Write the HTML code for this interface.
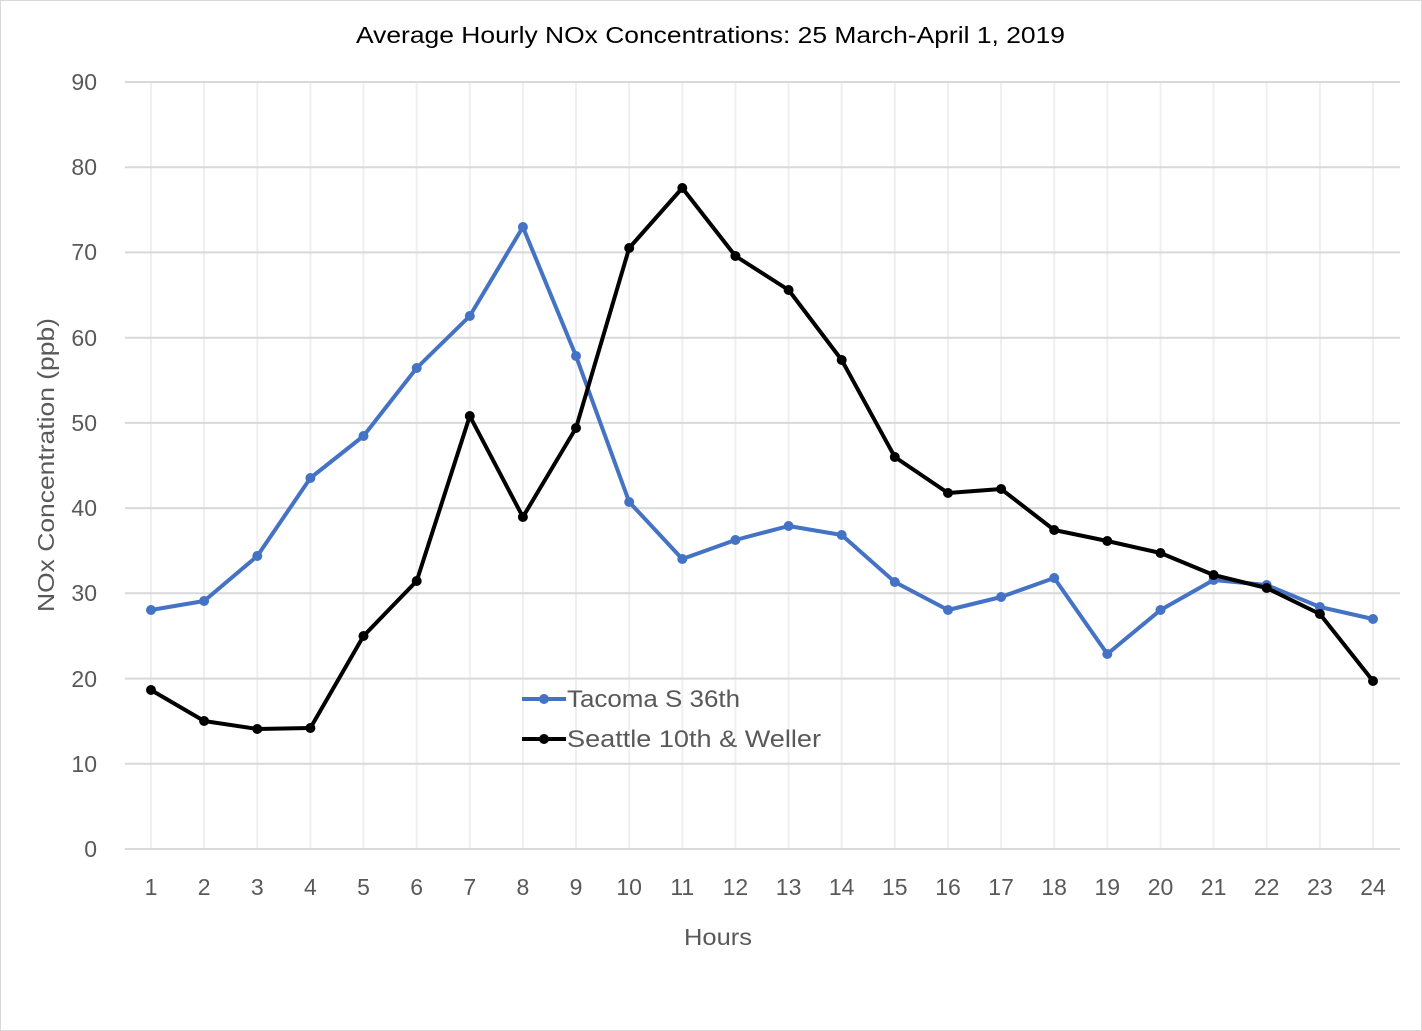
<!DOCTYPE html>
<html><head><meta charset="utf-8"><style>
html,body{margin:0;padding:0;background:#fff;}
svg{display:block;font-family:"Liberation Sans",sans-serif;}
</style></head><body>
<svg width="1422" height="1031" viewBox="0 0 1422 1031" xmlns="http://www.w3.org/2000/svg">
<rect x="0.5" y="0.5" width="1421" height="1030" fill="#fff" stroke="#d9d9d9"/>
<text x="356" y="43" font-size="23" fill="#000" textLength="709" lengthAdjust="spacingAndGlyphs">Average Hourly NOx Concentrations: 25 March-April 1, 2019</text>
<g stroke="#efefef" stroke-width="2">
<line x1="151" y1="82" x2="151" y2="849"/><line x1="204.1" y1="82" x2="204.1" y2="849"/><line x1="257.3" y1="82" x2="257.3" y2="849"/><line x1="310.4" y1="82" x2="310.4" y2="849"/><line x1="363.5" y1="82" x2="363.5" y2="849"/><line x1="416.7" y1="82" x2="416.7" y2="849"/><line x1="469.8" y1="82" x2="469.8" y2="849"/><line x1="522.9" y1="82" x2="522.9" y2="849"/><line x1="576" y1="82" x2="576" y2="849"/><line x1="629.2" y1="82" x2="629.2" y2="849"/><line x1="682.3" y1="82" x2="682.3" y2="849"/><line x1="735.4" y1="82" x2="735.4" y2="849"/><line x1="788.6" y1="82" x2="788.6" y2="849"/><line x1="841.7" y1="82" x2="841.7" y2="849"/><line x1="894.8" y1="82" x2="894.8" y2="849"/><line x1="948" y1="82" x2="948" y2="849"/><line x1="1001.1" y1="82" x2="1001.1" y2="849"/><line x1="1054.2" y1="82" x2="1054.2" y2="849"/><line x1="1107.3" y1="82" x2="1107.3" y2="849"/><line x1="1160.5" y1="82" x2="1160.5" y2="849"/><line x1="1213.6" y1="82" x2="1213.6" y2="849"/><line x1="1266.7" y1="82" x2="1266.7" y2="849"/><line x1="1319.9" y1="82" x2="1319.9" y2="849"/><line x1="1373" y1="82" x2="1373" y2="849"/>
</g>
<g stroke="#d9d9d9" stroke-width="2">
<line x1="125" y1="82" x2="1400" y2="82"/><line x1="125" y1="167.2" x2="1400" y2="167.2"/><line x1="125" y1="252.4" x2="1400" y2="252.4"/><line x1="125" y1="337.7" x2="1400" y2="337.7"/><line x1="125" y1="422.9" x2="1400" y2="422.9"/><line x1="125" y1="508.1" x2="1400" y2="508.1"/><line x1="125" y1="593.3" x2="1400" y2="593.3"/><line x1="125" y1="678.6" x2="1400" y2="678.6"/><line x1="125" y1="763.8" x2="1400" y2="763.8"/><line x1="125" y1="849" x2="1400" y2="849"/>
</g>
<g font-size="23" fill="#595959" text-anchor="end">
<text x="97" y="90">90</text><text x="97" y="175">80</text><text x="97" y="260">70</text><text x="97" y="346">60</text><text x="97" y="431">50</text><text x="97" y="516">40</text><text x="97" y="601">30</text><text x="97" y="687">20</text><text x="97" y="772">10</text><text x="97" y="857">0</text>
</g>
<g font-size="23" fill="#595959" text-anchor="middle">
<text x="151" y="895">1</text><text x="204.1" y="895">2</text><text x="257.3" y="895">3</text><text x="310.4" y="895">4</text><text x="363.5" y="895">5</text><text x="416.7" y="895">6</text><text x="469.8" y="895">7</text><text x="522.9" y="895">8</text><text x="576" y="895">9</text><text x="629.2" y="895">10</text><text x="682.3" y="895">11</text><text x="735.4" y="895">12</text><text x="788.6" y="895">13</text><text x="841.7" y="895">14</text><text x="894.8" y="895">15</text><text x="948" y="895">16</text><text x="1001.1" y="895">17</text><text x="1054.2" y="895">18</text><text x="1107.3" y="895">19</text><text x="1160.5" y="895">20</text><text x="1213.6" y="895">21</text><text x="1266.7" y="895">22</text><text x="1319.9" y="895">23</text><text x="1373" y="895">24</text>
</g>
<text x="684" y="945" font-size="23" fill="#595959" textLength="68" lengthAdjust="spacingAndGlyphs">Hours</text>
<text transform="translate(54,612) rotate(-90)" font-size="23" fill="#595959" textLength="294" lengthAdjust="spacingAndGlyphs">NOx Concentration (ppb)</text>
<polyline fill="none" stroke="#4472c4" stroke-width="4" stroke-linejoin="round" points="151,610 204.1,601 257.3,556 310.4,478 363.5,436 416.7,368 469.8,316 522.9,227 576,356 629.2,502 682.3,559 735.4,540 788.6,526 841.7,535 894.8,582 948,610 1001.1,597 1054.2,578 1107.3,654 1160.5,610 1213.6,580 1266.7,585 1319.9,607 1373,619"/>
<g fill="#4472c4">
<circle cx="151" cy="610" r="5"/><circle cx="204.1" cy="601" r="5"/><circle cx="257.3" cy="556" r="5"/><circle cx="310.4" cy="478" r="5"/><circle cx="363.5" cy="436" r="5"/><circle cx="416.7" cy="368" r="5"/><circle cx="469.8" cy="316" r="5"/><circle cx="522.9" cy="227" r="5"/><circle cx="576" cy="356" r="5"/><circle cx="629.2" cy="502" r="5"/><circle cx="682.3" cy="559" r="5"/><circle cx="735.4" cy="540" r="5"/><circle cx="788.6" cy="526" r="5"/><circle cx="841.7" cy="535" r="5"/><circle cx="894.8" cy="582" r="5"/><circle cx="948" cy="610" r="5"/><circle cx="1001.1" cy="597" r="5"/><circle cx="1054.2" cy="578" r="5"/><circle cx="1107.3" cy="654" r="5"/><circle cx="1160.5" cy="610" r="5"/><circle cx="1213.6" cy="580" r="5"/><circle cx="1266.7" cy="585" r="5"/><circle cx="1319.9" cy="607" r="5"/><circle cx="1373" cy="619" r="5"/>
</g>
<polyline fill="none" stroke="#000" stroke-width="4" stroke-linejoin="round" points="151,690 204.1,721 257.3,729 310.4,728 363.5,636 416.7,581 469.8,416 522.9,517 576,428 629.2,248 682.3,188 735.4,256 788.6,290 841.7,360 894.8,457 948,493 1001.1,489 1054.2,530 1107.3,541 1160.5,553 1213.6,575 1266.7,588 1319.9,614 1373,681"/>
<g fill="#000">
<circle cx="151" cy="690" r="5"/><circle cx="204.1" cy="721" r="5"/><circle cx="257.3" cy="729" r="5"/><circle cx="310.4" cy="728" r="5"/><circle cx="363.5" cy="636" r="5"/><circle cx="416.7" cy="581" r="5"/><circle cx="469.8" cy="416" r="5"/><circle cx="522.9" cy="517" r="5"/><circle cx="576" cy="428" r="5"/><circle cx="629.2" cy="248" r="5"/><circle cx="682.3" cy="188" r="5"/><circle cx="735.4" cy="256" r="5"/><circle cx="788.6" cy="290" r="5"/><circle cx="841.7" cy="360" r="5"/><circle cx="894.8" cy="457" r="5"/><circle cx="948" cy="493" r="5"/><circle cx="1001.1" cy="489" r="5"/><circle cx="1054.2" cy="530" r="5"/><circle cx="1107.3" cy="541" r="5"/><circle cx="1160.5" cy="553" r="5"/><circle cx="1213.6" cy="575" r="5"/><circle cx="1266.7" cy="588" r="5"/><circle cx="1319.9" cy="614" r="5"/><circle cx="1373" cy="681" r="5"/>
</g>
<line x1="522" y1="699" x2="566" y2="699" stroke="#4472c4" stroke-width="4"/><circle cx="544" cy="699" r="5" fill="#4472c4"/>
<line x1="522" y1="739" x2="566" y2="739" stroke="#000" stroke-width="4"/><circle cx="544" cy="739" r="5" fill="#000"/>
<text x="567" y="707" font-size="24" fill="#595959" textLength="173" lengthAdjust="spacingAndGlyphs">Tacoma S 36th</text>
<text x="567" y="747" font-size="24" fill="#595959" textLength="254" lengthAdjust="spacingAndGlyphs">Seattle 10th &amp; Weller</text>
</svg>
</body></html>
